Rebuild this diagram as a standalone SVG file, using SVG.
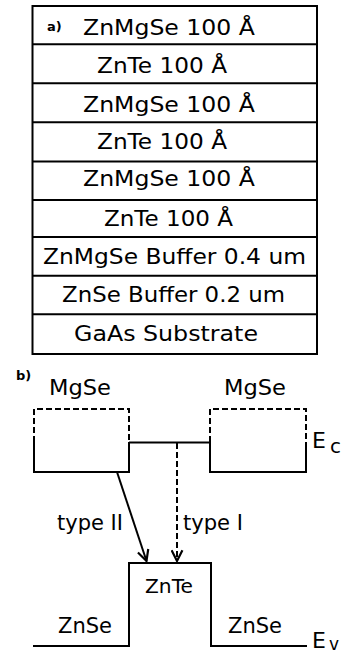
<svg xmlns="http://www.w3.org/2000/svg" width="344" height="655" viewBox="0 0 344 655">
<style>
  .ln{stroke:#000;stroke-width:2;fill:none}
  .dsh{stroke:#000;stroke-width:2;fill:none;stroke-dasharray:6 3}
  .t{font-family:"DejaVu Sans","Liberation Sans",sans-serif;font-size:22px;fill:#000}
  .s{font-family:"DejaVu Sans","Liberation Sans",sans-serif;font-size:13px;font-weight:bold;fill:#000}
</style>
<defs>
  <marker id="v" viewBox="0 0 12 12" refX="11" refY="6" markerWidth="13" markerHeight="13" markerUnits="userSpaceOnUse" orient="auto">
    <path d="M1,1 L11,6 L1,11" stroke="#000" stroke-width="2" fill="none"/>
  </marker>
</defs>
<rect width="344" height="655" fill="#fff"/>
<g id="layers">
  <rect x="32.5" y="6" width="284.5" height="348" class="ln"/>
  <g class="ln">
    <line x1="32.5" y1="44.3" x2="317" y2="44.3"/>
    <line x1="32.5" y1="83.3" x2="317" y2="83.3"/>
    <line x1="32.5" y1="122.3" x2="317" y2="122.3"/>
    <line x1="32.5" y1="161.5" x2="317" y2="161.5"/>
    <line x1="32.5" y1="200" x2="317" y2="200"/>
    <line x1="32.5" y1="237" x2="317" y2="237"/>
    <line x1="32.5" y1="275.7" x2="317" y2="275.7"/>
    <line x1="32.5" y1="314.3" x2="317" y2="314.3"/>
  </g>
  <text class="s" x="47" y="31">a)</text>
  <text class="t" x="83" y="35" textLength="172" lengthAdjust="spacingAndGlyphs">ZnMgSe 100 Å</text>
  <text class="t" x="97" y="73" textLength="130" lengthAdjust="spacingAndGlyphs">ZnTe 100 Å</text>
  <text class="t" x="83" y="112" textLength="172" lengthAdjust="spacingAndGlyphs">ZnMgSe 100 Å</text>
  <text class="t" x="97" y="149" textLength="130" lengthAdjust="spacingAndGlyphs">ZnTe 100 Å</text>
  <text class="t" x="83" y="186" textLength="172" lengthAdjust="spacingAndGlyphs">ZnMgSe 100 Å</text>
  <text class="t" x="104" y="226" textLength="129" lengthAdjust="spacingAndGlyphs">ZnTe 100 Å</text>
  <text class="t" x="43" y="264" textLength="263" lengthAdjust="spacingAndGlyphs">ZnMgSe Buffer 0.4 um</text>
  <text class="t" x="62" y="302" textLength="223" lengthAdjust="spacingAndGlyphs">ZnSe Buffer 0.2 um</text>
  <text class="t" x="74" y="341" textLength="184" lengthAdjust="spacingAndGlyphs">GaAs Substrate</text>
</g>
<g id="band">
  <text class="s" x="16" y="380">b)</text>
  <g id="mgse-left">
    <path class="dsh" d="M34,442 V409 H129 V442"/>
    <path class="ln" d="M34,442 V472 H129 V442"/>
    <text class="t" x="49" y="395" textLength="62" lengthAdjust="spacingAndGlyphs">MgSe</text>
  </g>
  <g id="mgse-right">
    <path class="dsh" d="M210,442 V409 H306 V442"/>
    <path class="ln" d="M210,442 V472 H306 V442"/>
    <text class="t" x="224" y="395" textLength="62" lengthAdjust="spacingAndGlyphs">MgSe</text>
  </g>
  <g id="znte-cb">
    <line class="ln" x1="129" y1="442.5" x2="210" y2="442.5"/>
  </g>
  <g id="valence">
    <path class="ln" d="M33,646 H129 V563 H211 V646 H307"/>
    <text class="t" x="145" y="593" textLength="48" lengthAdjust="spacingAndGlyphs" style="font-size:20px">ZnTe</text>
    <text class="t" x="58" y="633" textLength="54" lengthAdjust="spacingAndGlyphs" style="font-size:21px">ZnSe</text>
    <text class="t" x="228" y="633" textLength="54" lengthAdjust="spacingAndGlyphs" style="font-size:21px">ZnSe</text>
  </g>
  <text class="t" x="312" y="448">E<tspan x="330" y="453" style="font-size:20px">c</tspan></text>
  <text class="t" x="312" y="648">E<tspan x="329" y="650" style="font-size:17px">v</tspan></text>
  <text class="t" x="57" y="530" textLength="66" lengthAdjust="spacingAndGlyphs" style="font-size:21px">type II</text>
  <text class="t" x="183" y="530" textLength="60" lengthAdjust="spacingAndGlyphs" style="font-size:21px">type I</text>
</g>
<g id="connectors">
  <line class="ln" x1="117" y1="472" x2="146.5" y2="561" marker-end="url(#v)"/>
  <line class="dsh" x1="177" y1="443" x2="177" y2="561" marker-end="url(#v)"/>
</g>
</svg>
